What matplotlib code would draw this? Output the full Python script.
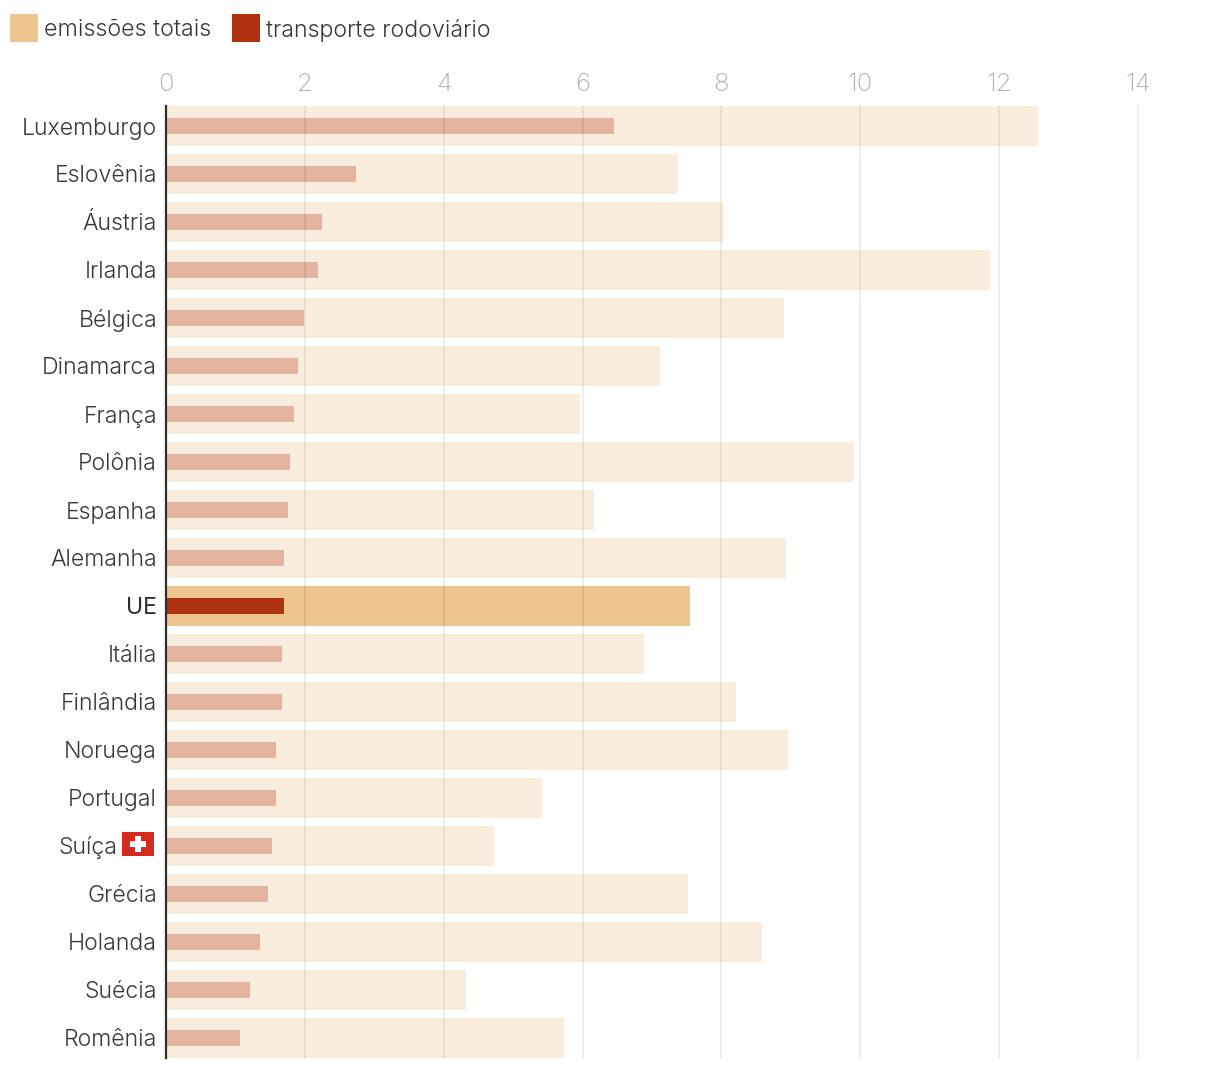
import matplotlib.pyplot as plt
from matplotlib.patches import Rectangle

plt.rcParams['font.family'] = ['Inter', 'Lato', 'DejaVu Sans']

COUNTRIES = ["Luxemburgo", "Eslovênia", "Áustria", "Irlanda", "Bélgica", "Dinamarca", "França",
             "Polônia", "Espanha", "Alemanha", "UE", "Itália", "Finlândia", "Noruega", "Portugal",
             "Suíça", "Grécia", "Holanda", "Suécia", "Romênia"]
TOTAL = [12.56, 7.37, 8.02, 11.87, 8.90, 7.11, 5.96, 9.91, 6.16, 8.93,
         7.55, 6.88, 8.21, 8.96, 5.42, 4.72, 7.52, 8.58, 4.32, 5.73]
ROAD = [6.45, 2.74, 2.25, 2.19, 1.99, 1.90, 1.84, 1.79, 1.76, 1.70,
        1.70, 1.67, 1.67, 1.58, 1.58, 1.53, 1.47, 1.35, 1.21, 1.07]
XTICKS = [0, 2, 4, 6, 8, 10, 12, 14]

W, H = 1220, 1070


def px_rect(x, y, w, h, color):
    # rectangle given in image pixels, y from the top
    fig.add_artist(Rectangle((x / W, 1 - (y + h) / H), w / W, h / H, color=color,
                             lw=0, transform=fig.transFigure))


fig = plt.figure(figsize=(W / 100, H / 100), dpi=100)
ax = fig.add_axes([166 / W, 1 - 1058 / H, 972 / W, 952 / H])

pos = list(range(len(COUNTRIES)))
tot_colors = ['#eec48f' if c == 'UE' else '#faeddd' for c in COUNTRIES]
road_colors = ['#ae3110' if c == 'UE' else '#e4b4a0' for c in COUNTRIES]
ax.barh(pos, TOTAL, height=40 / 48, color=tot_colors, zorder=1)
ax.barh(pos, ROAD, height=16 / 48, color=road_colors, zorder=2)

ax.set_xlim(0, 14)
ax.set_ylim(19 + 20 / 48, -20 / 48)
ax.xaxis.tick_top()
ax.set_xticks(XTICKS)
ax.set_yticks(pos)
ax.set_yticklabels(["" if c == "Suíça" else c for c in COUNTRIES])
ax.tick_params(axis='x', length=0, pad=7, labelsize=18.5, labelcolor='#b0b0b0')
ax.tick_params(axis='y', length=0, pad=6.4, labelsize=16.6, labelcolor='#383838')
for lab in ax.get_xticklabels():
    lab.set_fontweight(200)
for lab in ax.get_yticklabels():
    lab.set_fontweight(300)
    lab.set_verticalalignment('center_baseline')
ue = ax.get_yticklabels()[COUNTRIES.index("UE")]
ue.set_fontweight(400)
ue.set_color('#2e2e2e')

# label pushed left to leave room for the flag
ax.annotate("Suíça", xy=(0, COUNTRIES.index("Suíça")), xycoords=('data', 'data'),
            xytext=(-35.2, 0.5), textcoords='offset points', ha='right', va='center_baseline',
            fontsize=16.6, fontweight=300, color='#383838', annotation_clip=False)

ax.grid(axis='x', color='black', alpha=0.065, lw=1.44, zorder=3, clip_on=False)
ax.set_axisbelow(False)
for s in ['top', 'right', 'bottom']:
    ax.spines[s].set_visible(False)
ax.spines['left'].set_color('#333333')
ax.spines['left'].set_linewidth(1.6)

# legend
px_rect(10, 14, 28, 28, '#eec48f')
px_rect(232, 14, 28, 28, '#ae3110')
fig.text(44 / W, 1 - 28 / H, "emissões totais", fontsize=16.8, fontweight=300,
         color='#383838', va='center_baseline')
fig.text(266 / W, 1 - 28 / H, "transporte rodoviário", fontsize=16.7, fontweight=300,
         color='#383838', va='center_baseline')

# swiss flag next to the label
px_rect(122, 832, 32, 24, '#d52b1e')
px_rect(130, 841, 16, 6, 'white')
px_rect(135, 836, 6, 16, 'white')

fig.savefig("out.png", dpi=100)
